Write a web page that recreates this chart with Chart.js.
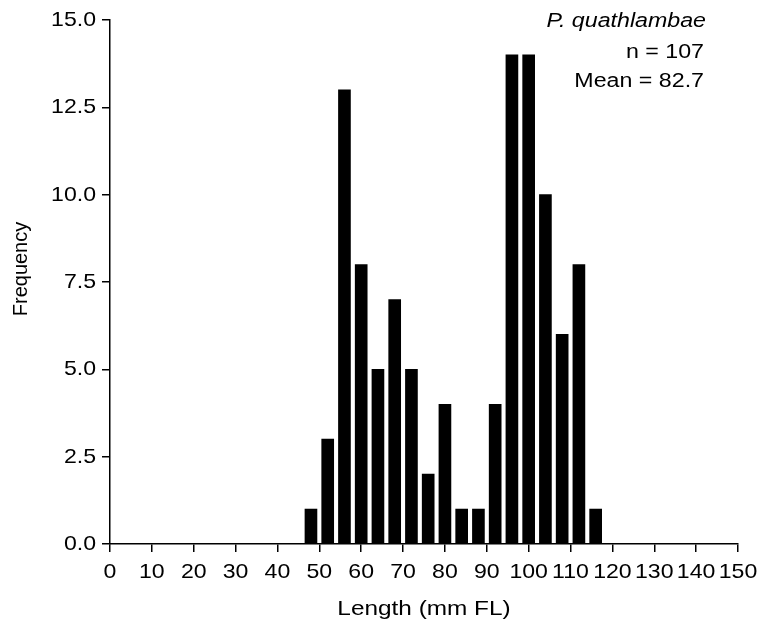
<!DOCTYPE html>
<html>
<head>
<meta charset="utf-8">
<script src="https://cdn.jsdelivr.net/npm/chart.js@4/dist/chart.umd.min.js"></script>
<style>
    html, body { margin: 0; padding: 0; background: #fff; }
    #wrap { width: 761px; height: 628px; }
</style>
</head>
<body>
<div id="wrap"><canvas id="histChart" width="761" height="628"></canvas></div>
<script>
// Length bins (bin centres, mm FL) and counts
const binCentres = [48, 52, 56, 60, 64, 68, 72, 76, 80, 84, 88, 92, 96, 100, 104, 108, 112, 116];
const counts = [1, 3, 13, 8, 5, 7, 5, 2, 4, 1, 1, 4, 14, 14, 10, 6, 8, 1];
const xTicks = [0, 10, 20, 30, 40, 50, 60, 70, 80, 90, 100, 110, 120, 130, 140, 150];
const yTicks = [0, 2.5, 5, 7.5, 10, 12.5, 15];
const infoLines = ['P. quathlambae', 'n = 107', 'Mean = 82.7'];

const FONT = "'Liberation Sans', Arial, sans-serif";

// Draw text stretched horizontally around an anchor point
function wideText(ctx, text, x, y, align, font, sx) {
    ctx.save();
    ctx.translate(x, y);
    ctx.scale(sx, 1);
    ctx.font = font;
    ctx.textAlign = align;
    ctx.textBaseline = 'alphabetic';
    ctx.fillStyle = '#000';
    ctx.fillText(text, 0, 0);
    ctx.restore();
}

// Tick labels, axis titles and the species text
const labelPlugin = {
    id: 'labelPlugin',
    afterDraw(chart) {
        const ctx = chart.ctx;
        const xs = chart.scales.x;
        const ys = chart.scales.y;
        const area = chart.chartArea;
        const f21 = '21px ' + FONT;
        const f20 = '20px ' + FONT;

        xTicks.forEach(v => {
            wideText(ctx, String(v), xs.getPixelForValue(v), area.bottom + 34, 'center', f21, 1.1);
        });
        yTicks.forEach(v => {
            wideText(ctx, v.toFixed(1), area.left - 14, ys.getPixelForValue(v) + 6, 'right', f21, 1.1);
        });

        wideText(ctx, 'Length (mm FL)', (area.left + area.right) / 2, 615, 'center', f21, 1.16);

        ctx.save();
        ctx.translate(27, 269);
        ctx.rotate(-Math.PI / 2);
        ctx.font = f20;
        ctx.textAlign = 'center';
        ctx.fillStyle = '#000';
        ctx.fillText('Frequency', 0, 0);
        ctx.restore();

        wideText(ctx, infoLines[0], 706, 27, 'right', 'italic ' + f20, 1.16);
        wideText(ctx, infoLines[1], 704, 58, 'right', f20, 1.16);
        wideText(ctx, infoLines[2], 704, 87, 'right', f20, 1.16);
    }
};

new Chart(document.getElementById('histChart'), {
    type: 'bar',
    data: {
        datasets: [{
            data: binCentres.map((x, i) => ({ x: x, y: counts[i] })),
            backgroundColor: '#000',
            borderWidth: 0,
            barThickness: 12
        }]
    },
    options: {
        responsive: false,
        animation: false,
        layout: { padding: { top: 20, right: 23, left: 0, bottom: 0 } },
        plugins: { legend: { display: false }, tooltip: { enabled: false } },
        scales: {
            x: {
                type: 'linear',
                offset: false,
                min: 0,
                max: 150,
                afterBuildTicks: axis => { axis.ticks = xTicks.map(v => ({ value: v })); },
                afterFit: axis => { axis.height = 84; },
                grid: { drawOnChartArea: false, offset: false, color: '#000', tickLength: 8, lineWidth: 1.5 },
                border: { color: '#000', width: 1.5 },
                ticks: { display: false }
            },
            y: {
                min: 0,
                max: 15,
                afterBuildTicks: axis => { axis.ticks = yTicks.map(v => ({ value: v })); },
                afterFit: axis => { axis.width = 110; },
                grid: { drawOnChartArea: false, color: '#000', tickLength: 8, lineWidth: 1.5 },
                border: { color: '#000', width: 1.5 },
                ticks: { display: false }
            }
        }
    },
    plugins: [labelPlugin]
});
</script>
</body>
</html>
